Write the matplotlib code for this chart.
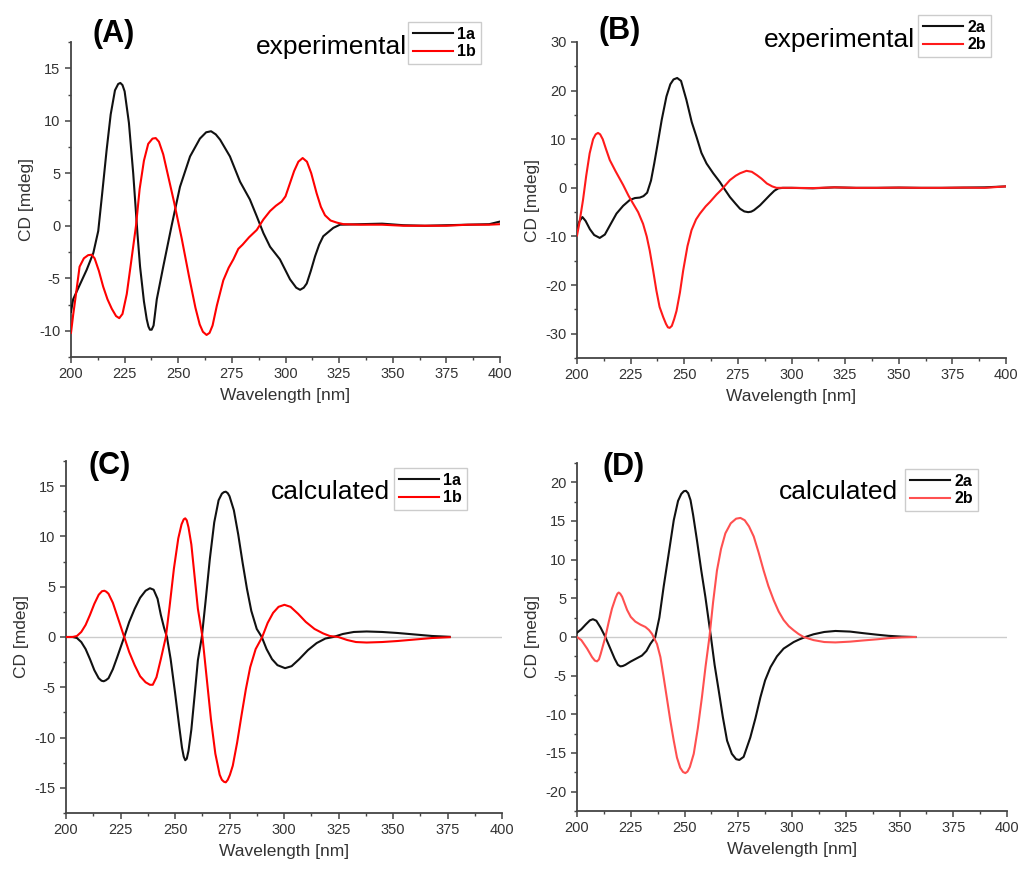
import numpy as np
import matplotlib
matplotlib.use("Agg")
from matplotlib import pyplot as plt
from matplotlib.ticker import MultipleLocator

plt.rcParams['font.family'] = ['Liberation Sans', 'DejaVu Sans']
plt.rcParams['axes.unicode_minus'] = False

# (wavelength nm, CD)
# (A) experimental
exp_1a = [(200, -8.2), (201, -7.0), (203.7, -5.8), (207.3, -4.2), (210.4, -2.6), (212.7, -0.5),
          (214.5, 3.0), (216.6, 7.2), (218.5, 10.6), (220.5, 12.9), (222, 13.5), (223, 13.6),
          (224, 13.4), (225, 12.8), (227, 9.8), (229, 5.0), (231, -0.8), (232.2, -3.9),
          (234, -7.2), (235.3, -8.9), (236.1, -9.6), (236.8, -9.9), (237.6, -9.9), (238.5, -9.5),
          (240, -7.0), (243, -3.9), (246.9, 0.0), (250.8, 3.7), (255.5, 6.6), (260.1, 8.3),
          (263, 8.9), (265.3, 9.0), (267.5, 8.7), (269.5, 8.2), (274.1, 6.6), (278.8, 4.2),
          (283.4, 2.5), (286.6, 0.9), (289.7, -0.7), (292.8, -2.0), (297.4, -3.2), (302.1, -5.1),
          (305, -5.9), (306.8, -6.1), (308.5, -5.9), (309.9, -5.5), (311.8, -4.3), (313.8, -2.9),
          (315.7, -1.8), (317.6, -1.0), (322.3, -0.2), (325.4, 0.1), (335, 0.15), (345, 0.2),
          (355, 0.05), (365, 0.0), (375, 0.05), (385, 0.1), (395, 0.15), (400, 0.4)]
exp_1b = [(200, -10.2), (201, -8.5), (202, -7.0), (204, -3.9), (206, -3.1), (208, -2.8),
          (209.6, -2.76), (211, -3.1), (213, -4.3), (215, -5.8), (217, -7.0), (219, -7.9),
          (221, -8.6), (222.5, -8.8), (224, -8.4), (226, -6.5), (228, -3.5), (230.3, 0.0),
          (232, 3.5), (234, 6.2), (236, 7.8), (238, 8.3), (239.5, 8.35), (241, 8.0),
          (243, 6.8), (245, 5.0), (248, 2.3), (251.6, -1.2), (255, -4.8), (258, -7.8),
          (260, -9.4), (261.5, -10.1), (263.2, -10.4), (264.6, -10.2), (266, -9.5), (268, -7.6),
          (271, -5.2), (273.5, -4.0), (275.7, -3.2), (278, -2.2), (280, -1.8), (283, -1.1),
          (286.6, -0.4), (289.7, 0.6), (292.8, 1.4), (295.5, 1.9), (298.2, 2.3), (300, 2.8),
          (302, 4.0), (304, 5.2), (306, 6.1), (308, 6.45), (310, 6.1), (312, 5.0),
          (314.5, 3.1), (316.5, 1.8), (318.4, 1.0), (321, 0.5), (323.9, 0.3), (327, 0.15),
          (335, 0.1), (345, 0.1), (355, 0.0), (365, 0.0), (375, 0.0), (385, 0.1),
          (395, 0.1), (400, 0.15)]

# (B) experimental
exp_2a = [(200, -8.7), (201, -7.0), (202.5, -6.0), (204, -6.8), (206, -8.5), (208, -9.7),
          (210.6, -10.3), (213, -9.6), (215.5, -7.6), (218.4, -5.3), (221.5, -3.7), (224.6, -2.5),
          (227, -2.1), (229.3, -2.0), (231, -1.7), (232.7, -1.0), (234.5, 1.5), (236, 5.0),
          (237.5, 8.8), (239.5, 14.0), (241.7, 18.8), (243.5, 21.3), (245, 22.3), (246.7, 22.6),
          (248.5, 22.0), (251, 18.1), (253.5, 13.5), (255.7, 10.5), (258, 7.2), (260.4, 5.0),
          (263.5, 3.0), (266.6, 1.2), (269, -0.4), (271.3, -1.9), (274, -3.3), (276, -4.3),
          (278, -4.85), (279.8, -5.0), (281.2, -4.9), (282.5, -4.6), (285.3, -3.6), (287.5, -2.6),
          (289.9, -1.5), (292, -0.6), (293.9, -0.1), (296, 0.0), (300, 0.0), (310, -0.1),
          (320, 0.1), (330, 0.0), (340, 0.0), (350, 0.05), (360, 0.0), (370, 0.0),
          (380, 0.05), (390, 0.1), (400, 0.3)]
exp_2b = [(200, -9.8), (201, -7.5), (202.8, -2.5), (204.3, 2.5), (205.9, 7.1), (207.5, 10.0),
          (208.7, 11.0), (209.8, 11.3), (210.8, 11.0), (212, 10.0), (213.5, 8.0), (215.3, 5.7),
          (218, 3.4), (221.5, 0.6), (224, -1.6), (226.1, -3.2), (228.5, -5.0), (230.8, -7.4),
          (232.5, -10.0), (233.9, -12.9), (235.5, -17.0), (237, -21.1), (238.5, -24.5),
          (240.2, -26.6), (241.5, -28.0), (242.4, -28.7), (243.2, -28.8), (244.2, -28.4),
          (245.3, -27.0), (246.4, -25.3), (248, -21.5), (249.5, -17.0), (251.5, -12.0),
          (253.4, -8.7), (255.5, -6.5), (257.3, -5.3), (260, -3.8), (262, -2.9), (265, -1.4),
          (267.5, -0.3), (271.3, 1.6), (274, 2.5), (276, 3.0), (279, 3.5), (281.5, 3.3),
          (283.9, 2.6), (286, 1.9), (288.5, 0.9), (291, 0.3), (293, 0.0), (295, 0.0),
          (300, 0.0), (310, -0.05), (320, 0.1), (330, 0.0), (340, 0.0), (350, 0.05),
          (360, 0.0), (370, 0.0), (380, 0.05), (390, 0.0), (400, 0.3)]

# (C) calculated
calc_1a = [(200, 0), (203, 0), (205, -0.1), (207, -0.5), (209, -1.2), (211, -2.2), (213, -3.3),
           (215, -4.1), (216.3, -4.35), (217.3, -4.4), (218.3, -4.3), (219.5, -4.1), (221.5, -3.2),
           (223.5, -2.0), (226.7, 0), (229, 1.5), (231.5, 2.8), (234, 3.9), (236.5, 4.6),
           (238.5, 4.85), (240.2, 4.7), (242, 3.8), (243.5, 2.2), (245, 0.9), (246.3, 0),
           (248, -2.2), (250, -5.5), (252, -9.0), (253.2, -11.0), (254, -11.9), (254.7, -12.25),
           (255.4, -12.1), (256.2, -11.3), (257.5, -9.2), (259, -5.8), (260.5, -2.3), (262.3, 0),
           (264, 3.5), (266, 7.8), (268, 11.4), (270, 13.6), (271.5, 14.25), (272.4, 14.4),
           (273.3, 14.45), (274.2, 14.3), (275, 14.0), (277, 12.6), (279, 10.2), (281, 7.4),
           (283, 4.8), (285, 2.6), (287.5, 0.8), (289.8, 0), (292, -1.2), (294.5, -2.2),
           (297, -2.8), (300.5, -3.1), (303.5, -2.9), (307, -2.2), (311, -1.3), (315, -0.6),
           (319, -0.15), (322.6, 0), (327, 0.3), (332, 0.5), (337.9, 0.55), (345, 0.5),
           (352, 0.4), (360, 0.25), (368, 0.1), (376, 0.02)]
calc_1b = [(200, 0), (203, 0), (205, 0.1), (207, 0.5), (209, 1.2), (211, 2.2), (213, 3.3),
           (215, 4.2), (216.5, 4.55), (217.6, 4.6), (218.5, 4.5), (219.5, 4.3), (221.5, 3.4),
           (223.5, 2.1), (226.7, 0), (229, -1.5), (231.5, -2.8), (234, -3.9), (236.5, -4.5),
           (238.5, -4.75), (239.8, -4.75), (241.5, -4.0), (243.5, -2.2), (245.8, 0), (247.5, 3.0),
           (249.5, 6.8), (251.5, 9.8), (253, 11.2), (254, 11.7), (254.7, 11.8), (255.4, 11.6),
           (256.2, 10.9), (257.5, 9.2), (259, 6.0), (260.5, 2.8), (262.6, 0), (264.5, -4.0),
           (266.5, -8.2), (268.5, -11.6), (270.5, -13.7), (271.5, -14.2), (272.5, -14.4),
           (273.3, -14.45), (274.2, -14.2), (275.2, -13.7), (276.5, -12.8), (278.5, -10.5),
           (280.5, -7.8), (282.5, -5.2), (284.5, -3.0), (287, -1.2), (290, 0), (292.5, 1.4),
           (295, 2.4), (297.5, 3.0), (300.2, 3.2), (303, 3.0), (306.5, 2.3), (310, 1.5),
           (314, 0.8), (318, 0.35), (321, 0.1), (324.9, 0), (329, -0.3), (333, -0.5),
           (337.9, -0.55), (345, -0.5), (352, -0.4), (360, -0.25), (368, -0.1), (376, -0.02)]

# (D) calculated
calc_2a = [(200, 0.55), (202, 1.0), (204, 1.6), (206, 2.15), (207.4, 2.3), (209, 2.1), (211, 1.2),
           (213.2, 0), (215.5, -1.5), (217.5, -2.8), (219, -3.6), (220.2, -3.8), (221.3, -3.75),
           (222.5, -3.6), (224.8, -3.2), (227.5, -2.8), (230.2, -2.4), (232.3, -1.8), (234.1, -0.9),
           (236.4, 0), (238.3, 2.5), (240.3, 6.5), (242.5, 10.5), (245, 15.1), (247, 17.6),
           (248.5, 18.5), (249.7, 18.85), (250.7, 18.9), (251.7, 18.6), (252.8, 17.7), (254, 15.8),
           (255.8, 12.5), (257.8, 8.6), (259.7, 5.2), (262.3, 0), (264, -3.6), (265.9, -6.9),
           (267.8, -10.3), (269.8, -13.4), (272, -15.1), (274, -15.8), (275.5, -15.9),
           (277.5, -15.5), (280.6, -13.0), (283, -10.5), (285.3, -7.8), (287.5, -5.6), (290, -3.9),
           (293, -2.5), (296.1, -1.5), (300.8, -0.65), (303.5, -0.3), (306.2, 0), (310, 0.35),
           (315, 0.65), (320.2, 0.78), (327, 0.7), (333, 0.5), (339.5, 0.3), (345, 0.15),
           (351, 0.05), (357.4, 0)]
calc_2b = [(200, 0), (202, -0.4), (204.7, -1.5), (207, -2.6), (208.3, -3.05), (209.3, -3.15),
           (210.2, -2.9), (211, -2.2), (213.2, 0), (214.8, 2.0), (216.3, 3.7), (218, 5.1),
           (218.8, 5.6), (219.4, 5.75), (220.1, 5.6), (221, 5.2), (223.3, 3.5), (225, 2.6),
           (227.1, 2.0), (229.5, 1.6), (231.8, 1.3), (233.5, 0.9), (234.9, 0.4), (237.2, -0.9),
           (238.8, -2.6), (240.3, -5.2), (241.8, -7.9), (243.4, -10.8), (245, -13.4),
           (246.5, -15.6), (248, -16.9), (249.3, -17.45), (250.4, -17.6), (251.4, -17.4),
           (252.5, -16.8), (254.3, -15.1), (256.2, -11.8), (258.1, -7.8), (259.8, -3.8),
           (261.6, 0), (263.3, 4.5), (265.1, 8.6), (267, 11.4), (269, 13.4), (271.5, 14.7),
           (274, 15.3), (276, 15.4), (278, 15.1), (280, 14.3), (282.2, 13.0), (284.5, 10.9),
           (286.8, 8.6), (289, 6.6), (291.5, 4.75), (293.8, 3.3), (296.1, 2.2), (298.5, 1.4),
           (300.8, 0.86), (303, 0.4), (305.4, 0), (310, -0.4), (315, -0.65), (320.2, -0.7),
           (327, -0.6), (333, -0.45), (339.5, -0.3), (345, -0.15), (351, -0.05), (357.4, 0)]

W, H = 1019, 869
fig = plt.figure(figsize=(W / 100, H / 100), dpi=100)


def px(x0, y0, x1, y1):
    return [x0 / W, 1 - y1 / H, (x1 - x0) / W, (y1 - y0) / H]


panels = [
    # rect, curves, labels, colors, ylim, major, minor, ylabel, letter, letter pos,
    # note, note pos, legend anchor, zero line
    (px(71, 42, 500, 357), (exp_1a, exp_1b), ('1a', '1b'), ('#111111', '#ff0000'),
     (-12.5, 17.5), 5, 2.5, 'CD [mdeg]', '(A)', (93, 34), 'experimental', (407, 47), (481, 22), False),
    (px(577, 42, 1006, 358), (exp_2a, exp_2b), ('2a', '2b'), ('#111111', '#ff1a1a'),
     (-35, 30), 10, 5, 'CD [mdeg]', '(B)', (598, 31), 'experimental', (915, 40), (991, 15), False),
    (px(66, 461, 502, 813), (calc_1a, calc_1b), ('1a', '1b'), ('#111111', '#ff0000'),
     (-17.5, 17.5), 5, 2.5, 'CD [mdeg]', '(C)', (88, 466), 'calculated', (390, 492), (467, 468), True),
    (px(577, 463, 1007, 811), (calc_2a, calc_2b), ('2a', '2b'), ('#111111', '#ff5050'),
     (-22.5, 22.5), 5, 2.5, 'CD [medg]', '(D)', (602, 467), 'calculated', (898, 492), (978, 469), True),
]

for (rect, curves, labels, colors, ylim, major, minor, ylabel, letter, lpos,
     note, npos, lanchor, zero) in panels:
    ax = fig.add_axes(rect)
    if zero:
        ax.axhline(0, color='#cccccc', lw=1.0, zorder=1)
    for data, lab, col in zip(curves, labels, colors):
        wl, cd = np.array(data).T
        ax.plot(wl, cd, color=col, lw=1.5, label=lab, zorder=3)
    ax.set_xlim(200, 400)
    ax.set_ylim(*ylim)
    ax.xaxis.set_major_locator(MultipleLocator(25))
    ax.xaxis.set_minor_locator(MultipleLocator(12.5))
    ax.yaxis.set_major_locator(MultipleLocator(major))
    ax.yaxis.set_minor_locator(MultipleLocator(minor))
    for s in ('top', 'right'):
        ax.spines[s].set_visible(False)
    for s in ('left', 'bottom'):
        ax.spines[s].set_color('#444444')
        ax.spines[s].set_linewidth(1.3)
    ax.tick_params(which='major', direction='out', length=4, width=1.1, color='#444444',
                   labelsize=10.5, labelcolor='#333333')
    ax.tick_params(which='minor', direction='out', length=2.5, width=1.0, color='#444444')
    ax.set_xlabel('Wavelength [nm]', fontsize=12.5, color='#333333', labelpad=5)
    ax.set_ylabel(ylabel, fontsize=12.5, color='#333333', labelpad=4)
    fig.text(lpos[0] / W, 1 - lpos[1] / H, letter, fontsize=22, fontweight='bold',
             ha='left', va='center')
    fig.text(npos[0] / W, 1 - npos[1] / H, note, fontsize=19, ha='right', va='center')
    leg = ax.legend(loc='upper right', bbox_to_anchor=(lanchor[0] / W, 1 - lanchor[1] / H),
                    bbox_transform=fig.transFigure, fancybox=False, framealpha=1,
                    edgecolor='#cccccc', prop={'weight': 'bold', 'size': 11.5},
                    handlelength=2.5, handletextpad=0.3, labelspacing=0.15,
                    borderpad=0.3, borderaxespad=0)
    leg.get_frame().set_linewidth(1.0)

fig.savefig('out.png', dpi=100)
